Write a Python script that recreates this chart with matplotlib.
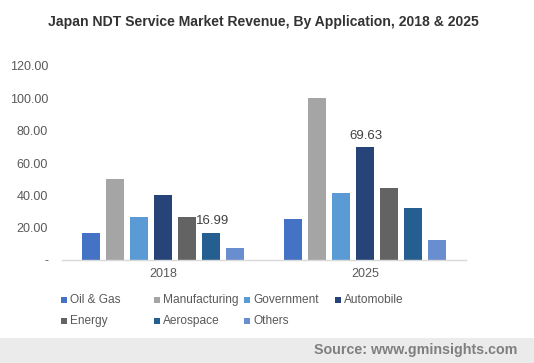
import matplotlib
matplotlib.use("Agg")
import matplotlib.pyplot as plt
from matplotlib.patches import Rectangle
import numpy as np

plt.rcParams['font.family'] = ['Liberation Sans', 'DejaVu Sans']

years = ["2018", "2025"]
series = ["Oil & Gas", "Manufacturing", "Government", "Automobile",
          "Energy", "Aerospace", "Others"]
values = {
    "Oil & Gas":     [16.6, 25.1],
    "Manufacturing": [50.4, 100.4],
    "Government":    [26.3, 41.2],
    "Automobile":    [39.9, 69.63],
    "Energy":        [26.3, 44.3],
    "Aerospace":     [16.99, 31.9],
    "Others":        [7.7, 12.1],
}
colors = ["#4472C4", "#A5A5A5", "#5B9BD5", "#264478",
          "#636363", "#255E91", "#698ED0"]
yticks = [0, 20, 40, 60, 80, 100, 120]
ytick_labels = ["-", "20.00", "40.00", "60.00", "80.00", "100.00", "120.00"]
labelled = {("Aerospace", 0): "16.99", ("Automobile", 1): "69.63"}

W, H = 534, 363
fig = plt.figure(figsize=(W / 100, H / 100), dpi=100)
ax = fig.add_axes([62 / W, 1 - 260 / H, (466 - 62) / W, (260 - 66) / H])

x = np.arange(len(years))
step = 0.1185
width = 0.092
for i, s in enumerate(series):
    off = (i - 3) * step
    bars = ax.bar(x + off, values[s], width=width, color=colors[i], zorder=2)
    for j, b in enumerate(bars):
        if (s, j) in labelled:
            ax.annotate(labelled[(s, j)], (b.get_x() + b.get_width() / 2, b.get_height()),
                        xytext=(1, 4), textcoords="offset points", ha="center", va="bottom",
                        fontsize=9.5, color="#404040")

ax.set_xlim(-0.5, 1.5)
ax.set_ylim(0, 120)
ax.set_yticks(yticks)
ax.set_yticklabels(ytick_labels)
ax.set_xticks(x)
ax.set_xticklabels(years)
for sp in ["top", "right", "left"]:
    ax.spines[sp].set_visible(False)
ax.spines["bottom"].set_color("#d9d9d9")
ax.spines["bottom"].set_linewidth(1.0)
ax.tick_params(axis="both", length=0, labelsize=9, colors="#595959")
ax.tick_params(axis="y", pad=10)
ax.tick_params(axis="x", pad=6)
for t in ax.get_yticklabels():
    t.set_horizontalalignment("right")

fig.text(263 / W, 1 - 22 / H, "Japan NDT Service Market Revenue, By Application, 2018 & 2025",
         ha="center", va="center", fontsize=10.1, fontweight="bold", color="#333333")

# legend
col_x = [61, 154, 244, 335]
row_y = [300, 321]
for i, s in enumerate(series):
    r, c = divmod(i, 4)
    mx, my = col_x[c], row_y[r]
    fig.add_artist(Rectangle((mx / W, 1 - (my + 3) / H), 6 / W, 6 / H,
                             transform=fig.transFigure, color=colors[i], lw=0))
    fig.text((mx + 9) / W, 1 - my / H, s, ha="left", va="center",
             fontsize=8.6, color="#595959")

# source band
fig.add_artist(Rectangle((0, 0), 1, (H - 338) / H, transform=fig.transFigure,
                         color="#ebebeb", lw=0, zorder=0))
fig.text(517 / W, 1 - 350 / H, "Source: www.gminsights.com", ha="right", va="center",
         fontsize=10.3, fontweight="bold", color="#7f7f7f")

fig.savefig("out.png", dpi=100)
